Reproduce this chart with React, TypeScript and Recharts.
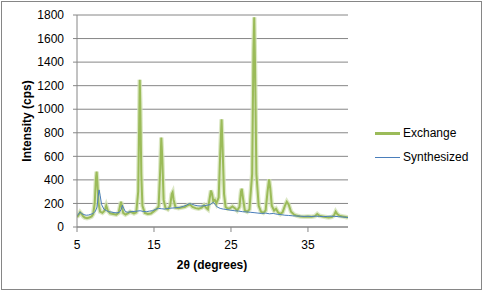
import { LineChart, Line, XAxis, YAxis, CartesianGrid } from 'recharts'

// 2θ positions and counts
const exchangeAngles = [
  5.0, 5.2, 5.4, 5.6, 5.8, 6.0, 6.3, 6.6, 6.9, 7.1, 7.3, 7.45, 7.55, 7.65, 7.8, 8.0, 8.3, 8.6, 8.8, 9.0,
  9.3, 9.7, 10.1, 10.4, 10.6, 10.72, 10.85, 11.0, 11.3, 11.6, 11.9, 12.1, 12.4, 12.7, 12.95, 13.08, 13.15,
  13.22, 13.35, 13.5, 13.8, 14.2, 14.6, 15.0, 15.3, 15.6, 15.82, 15.95, 16.08, 16.25, 16.5, 16.8, 17.1, 17.3,
  17.42, 17.55, 17.8, 18.2, 18.6, 19.0, 19.4, 19.7, 20.0, 20.4, 20.8, 21.2, 21.5, 21.8, 22.0, 22.2, 22.4,
  22.55, 22.7, 22.9, 23.1, 23.4, 23.62, 23.78, 23.92, 24.1, 24.3, 24.6, 24.9, 25.2, 25.5, 25.8, 26.1, 26.3,
  26.4, 26.55, 26.8, 27.1, 27.4, 27.75, 27.92, 28.02, 28.12, 28.3, 28.6, 28.9, 29.2, 29.5, 29.75, 29.95,
  30.1, 30.3, 30.6, 30.85, 31.1, 31.4, 31.7, 32.0, 32.25, 32.5, 32.8, 33.2, 33.6, 34.0, 34.5, 35.0, 35.5,
  35.9, 36.2, 36.5, 36.9, 37.3, 37.7, 38.1, 38.4, 38.6, 38.8, 39.1, 39.5, 39.9, 40.2,
]
const exchangeCounts = [
  85, 100, 125, 110, 90, 80, 75, 80, 90, 110, 200, 400, 470, 380, 200, 130, 120, 140, 180, 140,
  115, 110, 105, 120, 180, 215, 170, 120, 105, 115, 130, 125, 115, 125, 300, 900, 1250,
  1050, 450, 180, 120, 110, 115, 135, 150, 175, 500, 760, 580, 230, 160, 150, 180, 280,
  295, 230, 165, 160, 165, 170, 185, 190, 170, 160, 155, 165, 185, 160, 150, 230, 310,
  280, 220, 230, 200, 250, 650, 915, 650, 280, 170, 155, 160, 175, 160, 140, 170, 300,
  325, 250, 140, 130, 150, 450, 1500, 1780, 1400, 450, 180, 130, 120, 140, 300, 405,
  330, 180, 140, 155, 125, 110, 125, 180, 215, 190, 130, 105, 95, 90, 88, 90, 88,
  92, 110, 95, 90, 85, 80, 85, 100, 130, 110, 95, 90, 85, 80,
]

const synthAngles = [
  5.0, 5.2, 5.4, 5.6, 5.9, 6.2, 6.5, 6.8, 7.1, 7.4, 7.6, 7.75, 7.87, 8.0, 8.2, 8.5, 8.8, 9.1, 9.4, 9.8,
  10.2, 10.5, 10.75, 10.9, 11.05, 11.3, 11.6, 12.0, 12.4, 12.8, 13.2, 13.6, 14.0, 14.4, 14.8, 15.2, 15.6,
  16.0, 16.4, 16.8, 17.2, 17.6, 18.0, 18.4, 18.8, 19.2, 19.6, 19.9, 20.3, 20.7, 21.1, 21.5, 21.9, 22.3,
  22.7, 22.9, 23.2, 23.6, 24.0, 24.5, 25.0, 25.5, 26.0, 26.5, 27.0, 27.5, 28.0, 28.5, 29.0, 29.5, 30.0,
  30.5, 31.0, 31.5, 32.0, 32.5, 33.0, 33.5, 34.0, 34.5, 35.0, 35.5, 36.0, 36.5, 37.0, 37.5, 38.0, 38.5,
  39.0, 39.5, 40.0, 40.2,
]
const synthCounts = [
  95, 110, 128, 115, 105, 100, 102, 108, 115, 135, 170, 260, 315, 270, 190, 150, 140, 130, 128, 122,
  120, 125, 150, 185, 160, 130, 125, 130, 132, 135, 138, 132, 130, 135, 138, 150, 158,
  155, 152, 158, 160, 162, 165, 168, 175, 185, 200, 195, 185, 180, 178, 180, 185, 190,
  210, 195, 170, 158, 152, 148, 142, 138, 135, 130, 128, 125, 122, 118, 115, 118, 112,
  115, 108, 105, 100, 98, 95, 93, 92, 90, 91, 89, 92, 90, 88, 90, 92, 90,
  88, 85, 82, 80,
]

const xTicks = [5, 15, 25, 35]
const yTicks = [0, 200, 400, 600, 800, 1000, 1200, 1400, 1600, 1800]

const exchangeData = exchangeAngles.map((a, i) => ({ angle: a, value: exchangeCounts[i] }))
const synthData = synthAngles.map((a, i) => ({ angle: a, value: synthCounts[i] }))

const font = '"Liberation Sans", Arial, sans-serif'
const gray = '#868686'

function LegendBox() {
  const row = (color: string, w: number, text: string) => (
    <div style={{ display: 'flex', alignItems: 'center', height: 24 }}>
      <div style={{ width: 25, height: w, background: color, marginRight: 3 }} />
      <span style={{ fontSize: 12, fontFamily: font, color: '#000' }}>{text}</span>
    </div>
  )
  return (
    <div style={{ position: 'absolute', left: 375, top: 121 }}>
      {row('#9BBB59', 3, 'Exchange')}
      {row('#4A7EBB', 1, 'Synthesized')}
    </div>
  )
}

export default function App() {
  return (
    <div style={{ position: 'absolute', left: 0, top: 0, width: 483, height: 291, background: '#fff' }}>
      <div
        style={{
          position: 'absolute', left: 1, top: 1, width: 481, height: 289,
          border: `1px solid ${gray}`, boxSizing: 'border-box',
        }}
      />
      <LineChart
        width={483}
        height={291}
        margin={{ top: 15, right: 135, bottom: 34, left: 27 }}
        style={{ fontFamily: font }}
      >
        <CartesianGrid vertical={false} stroke={gray} />
        <XAxis
          dataKey="angle"
          type="number"
          domain={[5, 40.2]}
          ticks={xTicks}
          interval={0}
          allowDataOverflow
          height={30}
          stroke={gray}
          tickSize={5}
          tickMargin={8}
          tick={{ fill: '#000', fontSize: 12 }}
          label={{
            content: () => (
              <text x={212} y={269} textAnchor="middle" fontSize={12} fontWeight="bold" fill="#000">
                2θ (degrees)
              </text>
            ),
          }}
        />
        <YAxis
          type="number"
          domain={[0, 1800]}
          ticks={yTicks}
          interval={0}
          width={50}
          stroke={gray}
          tickSize={4}
          tickMargin={9}
          tick={{ fill: '#000', fontSize: 12 }}
          label={{
            content: () => (
              <text
                x={27}
                y={121}
                transform="rotate(-90 27 121)"
                textAnchor="middle"
                dominantBaseline="central"
                fontSize={12}
                fontWeight="bold"
                fill="#000"
              >
                Intensity (cps)
              </text>
            ),
          }}
        />
        <Line
          data={exchangeData}
          dataKey="value"
          type="linear"
          stroke="#D3E2B6"
          strokeOpacity={0.8}
          strokeWidth={4.5}
          dot={false}
          legendType="none"
          isAnimationActive={false}
        />
        <Line
          data={exchangeData}
          dataKey="value"
          name="Exchange"
          type="linear"
          stroke="#9BBB59"
          strokeWidth={2}
          dot={false}
          isAnimationActive={false}
        />
        <Line
          data={synthData}
          dataKey="value"
          name="Synthesized"
          type="linear"
          stroke="#4A7EBB"
          strokeWidth={1}
          dot={false}
          isAnimationActive={false}
        />
      </LineChart>
      <LegendBox />
    </div>
  )
}
